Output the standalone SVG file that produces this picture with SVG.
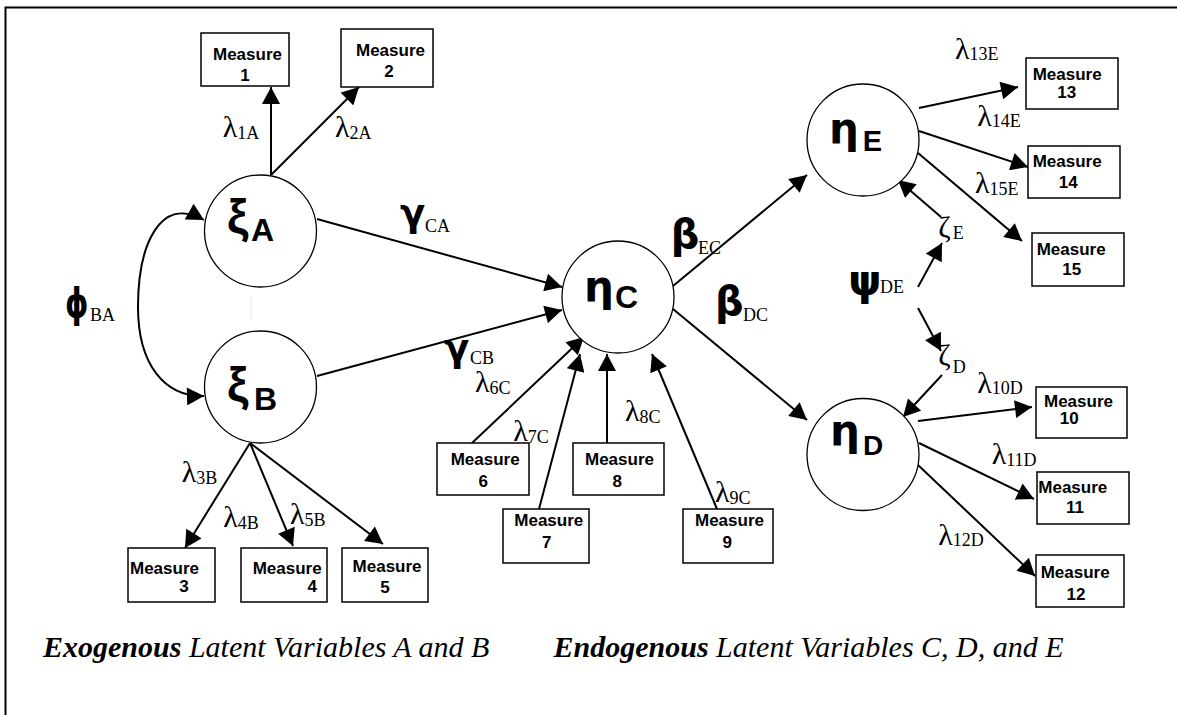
<svg xmlns="http://www.w3.org/2000/svg" width="1177" height="715" viewBox="0 0 1177 715">
<defs>
<marker id="ah" markerUnits="userSpaceOnUse" markerWidth="18" markerHeight="18" viewBox="0 0 17 18" refX="17" refY="9" orient="auto-start-reverse">
<path d="M0,0 L17,9 L0,18 z" fill="#000"/>
</marker>
<style>
.box{fill:#fff;stroke:#000;stroke-width:1.5}
.lat{fill:#fff;stroke:#000;stroke-width:1.3}
.mt{font-family:"Liberation Sans",Arial,sans-serif;font-weight:bold;font-size:17px}
.con{stroke:#000;stroke-width:2;fill:none;marker-end:url(#ah)}
.lam{font-family:"Liberation Serif","Times New Roman",serif;font-size:30px}
.sub{font-family:"Liberation Serif","Times New Roman",serif;font-size:18px}
.gk{font-family:"DejaVu Sans",sans-serif;font-weight:bold}
.ls{font-family:"Liberation Sans",Arial,sans-serif;font-weight:bold}
.cap{font-family:"Liberation Serif","Times New Roman",serif;font-style:italic;font-size:30px}
</style>
</defs>
<rect width="1177" height="715" fill="#fff"/>
<path d="M5.5,715 L5.5,7.5 L1177,7.5" fill="none" stroke="#000" stroke-width="2"/>

<g id="connectors">
<line class="con" x1="271" y1="175" x2="271" y2="87"/>
<line class="con" x1="271" y1="175" x2="359" y2="87"/>
<path class="con" d="M204,220 C160,195 138,245 138,307 C138,365 165,397 204,396" marker-start="url(#ah)"/>
<line x1="251" y1="297" x2="251" y2="320" stroke="#e6e6e6" stroke-width="1"/>
<line class="con" x1="317" y1="219" x2="562" y2="287"/>
<line class="con" x1="317" y1="376" x2="562" y2="310"/>
<line class="con" x1="250" y1="443" x2="185" y2="548"/>
<line class="con" x1="250" y1="443" x2="293" y2="546"/>
<line class="con" x1="250" y1="443" x2="383" y2="544"/>
<line class="con" x1="472" y1="443" x2="584" y2="337"/>
<line class="con" x1="539" y1="509" x2="580" y2="354"/>
<line class="con" x1="607" y1="443" x2="607" y2="354"/>
<line class="con" x1="717" y1="509" x2="652" y2="354"/>
<line class="con" x1="673" y1="286" x2="807" y2="175"/>
<line class="con" x1="673" y1="309" x2="807" y2="420"/>
<line class="con" x1="919" y1="108" x2="1018" y2="87"/>
<line class="con" x1="919" y1="131" x2="1028" y2="167"/>
<line class="con" x1="918" y1="153" x2="1022" y2="241"/>
<line class="con" x1="941" y1="217" x2="898" y2="180"/>
<line class="con" x1="918" y1="287" x2="942" y2="243"/>
<line class="con" x1="918" y1="308" x2="941" y2="351"/>
<line class="con" x1="942" y1="375" x2="903" y2="417"/>
<line class="con" x1="918" y1="421" x2="1032" y2="407"/>
<line class="con" x1="919" y1="443" x2="1034" y2="499"/>
<line class="con" x1="918" y1="465" x2="1035" y2="576"/>
</g>

<g id="labels">
<text class="lam" x="222.7" y="137">λ<tspan class="sub" dy="1.5">1A</tspan></text>
<text class="lam" x="335" y="137">λ<tspan class="sub" dy="1.5">2A</tspan></text>
<text class="lam" x="181.7" y="482">λ<tspan class="sub" dy="1.5">3B</tspan></text>
<text class="lam" x="223.3" y="527">λ<tspan class="sub" dy="1.5">4B</tspan></text>
<text class="lam" x="290" y="524">λ<tspan class="sub" dy="1.5">5B</tspan></text>
<text class="lam" x="475" y="392">λ<tspan class="sub" dy="1.5">6C</tspan></text>
<text class="lam" x="513.3" y="441">λ<tspan class="sub" dy="1.5">7C</tspan></text>
<text class="lam" x="625" y="421">λ<tspan class="sub" dy="1.5">8C</tspan></text>
<text class="lam" x="715" y="502">λ<tspan class="sub" dy="1.5">9C</tspan></text>
<text class="lam" x="977.3" y="392.5">λ<tspan class="sub" dy="1.5">10D</tspan></text>
<text class="lam" x="991.7" y="464">λ<tspan class="sub" dy="1.5">11D</tspan></text>
<text class="lam" x="938.3" y="544.5">λ<tspan class="sub" dy="1.5">12D</tspan></text>
<text class="lam" x="955" y="58.5">λ<tspan class="sub" dy="1.5">13E</tspan></text>
<text class="lam" x="977.3" y="125.5">λ<tspan class="sub" dy="1.5">14E</tspan></text>
<text class="lam" x="975" y="193">λ<tspan class="sub" dy="1.5">15E</tspan></text>

<text class="gk" x="400" y="226" font-size="37">γ</text>
<text class="sub" x="425" y="231.7" font-size="17">CA</text>
<text class="gk" x="444" y="361" font-size="37">γ</text>
<text class="sub" x="470" y="364" font-size="17">CB</text>
<text class="gk" x="670.7" y="248" font-size="40">β</text>
<text class="sub" x="698" y="253.5" font-size="17">EC</text>
<text class="gk" x="715" y="315" font-size="40">β</text>
<text class="sub" x="743" y="320.7" font-size="17">DC</text>
<text class="gk" transform="translate(65,317) scale(0.74,1)" font-size="40">ϕ</text>
<text class="sub" x="90" y="321" font-size="17">BA</text>
<text class="gk" x="848.3" y="295" font-size="42">ψ</text>
<text class="sub" x="880" y="293" font-size="17">DE</text>
<text class="lam" x="938.3" y="237" font-size="27">ζ</text>
<text class="sub" x="952.7" y="239.3" font-size="17">E</text>
<text class="lam" x="938.3" y="365" font-size="27">ζ</text>
<text class="sub" x="952.7" y="372.7" font-size="17">D</text>
</g>

<g id="xiA"><circle class="lat" cx="260.5" cy="231" r="56"/>
<text class="ls" x="227" y="233" font-size="48">ξ</text><text class="ls" x="251" y="241" font-size="32">A</text></g>
<g id="xiB"><circle class="lat" cx="260.5" cy="387" r="56"/>
<text class="ls" x="227" y="401" font-size="48">ξ</text><text class="ls" x="254" y="410" font-size="32">B</text></g>
<g id="etaC"><circle class="lat" cx="618" cy="297" r="56"/>
<text class="gk" x="584" y="301" font-size="42">η</text><text class="ls" x="615" y="308" font-size="32">C</text></g>
<g id="etaE"><circle class="lat" cx="863" cy="140" r="56"/>
<text class="gk" x="829" y="143" font-size="42">η</text><text class="ls" x="862.7" y="150.7" font-size="29">E</text></g>
<g id="etaD"><circle class="lat" cx="863" cy="454.5" r="56"/>
<text class="gk" x="830" y="445" font-size="42">η</text><text class="ls" x="863" y="455" font-size="28">D</text></g>

<g id="m1"><rect class="box" x="201" y="33" width="88" height="53"/><text class="mt" x="213" y="60">Measure</text><text class="mt" x="245" y="80.7" text-anchor="middle">1</text></g>
<g id="m2"><rect class="box" x="341" y="29" width="92" height="58"/><text class="mt" x="356" y="56">Measure</text><text class="mt" x="389" y="77" text-anchor="middle">2</text></g>
<g id="m3"><rect class="box" x="128" y="548" width="87" height="54"/><text class="mt" x="130" y="574">Measure</text><text class="mt" x="184" y="592" text-anchor="middle">3</text></g>
<g id="m4"><rect class="box" x="241" y="548" width="86" height="54"/><text class="mt" x="252.7" y="574">Measure</text><text class="mt" x="312.3" y="592" text-anchor="middle">4</text></g>
<g id="m5"><rect class="box" x="342" y="548" width="86" height="54"/><text class="mt" x="352.6" y="572">Measure</text><text class="mt" x="385" y="593" text-anchor="middle">5</text></g>
<g id="m6"><rect class="box" x="437" y="443" width="92" height="52"/><text class="mt" x="450.7" y="465">Measure</text><text class="mt" x="483.3" y="487.3" text-anchor="middle">6</text></g>
<g id="m7"><rect class="box" x="503" y="509" width="86" height="54"/><text class="mt" x="514.3" y="526">Measure</text><text class="mt" x="546.7" y="548" text-anchor="middle">7</text></g>
<g id="m8"><rect class="box" x="573" y="443" width="91" height="52"/><text class="mt" x="585" y="465">Measure</text><text class="mt" x="617.3" y="487" text-anchor="middle">8</text></g>
<g id="m9"><rect class="box" x="683" y="509" width="90" height="54"/><text class="mt" x="695" y="526">Measure</text><text class="mt" x="727.3" y="548" text-anchor="middle">9</text></g>
<g id="m10"><rect class="box" x="1036" y="387" width="91" height="51"/><text class="mt" x="1044" y="407.3">Measure</text><text class="mt" x="1069.3" y="424" text-anchor="middle">10</text></g>
<g id="m11"><rect class="box" x="1037" y="472" width="92" height="52"/><text class="mt" x="1038.3" y="493.3">Measure</text><text class="mt" x="1075" y="513.3" text-anchor="middle">11</text></g>
<g id="m12"><rect class="box" x="1036" y="555" width="88" height="52"/><text class="mt" x="1040.7" y="578.3">Measure</text><text class="mt" x="1076" y="600" text-anchor="middle">12</text></g>
<g id="m13"><rect class="box" x="1026" y="58" width="92" height="51"/><text class="mt" x="1032.7" y="80">Measure</text><text class="mt" x="1066.7" y="98.3" text-anchor="middle">13</text></g>
<g id="m14"><rect class="box" x="1028" y="146" width="92" height="52"/><text class="mt" x="1032.7" y="167.3">Measure</text><text class="mt" x="1068.3" y="188.3" text-anchor="middle">14</text></g>
<g id="m15"><rect class="box" x="1032" y="233" width="92" height="53"/><text class="mt" x="1036.7" y="255">Measure</text><text class="mt" x="1071.7" y="275" text-anchor="middle">15</text></g>

<g id="captions">
<text class="cap" x="43" y="657"><tspan font-weight="bold">Exogenous</tspan> Latent Variables A and B</text>
<text class="cap" x="553.5" y="657"><tspan font-weight="bold">Endogenous</tspan> Latent Variables C, D, and E</text>
</g>
</svg>
